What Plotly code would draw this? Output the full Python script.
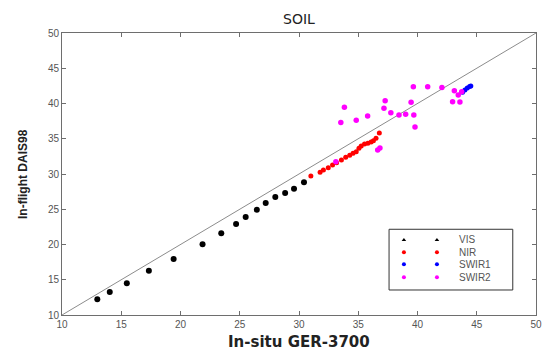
import plotly.graph_objects as go

# ---- data ----
vis_x = [12.98, 14.03, 15.47, 17.33, 19.42, 21.86, 23.44, 24.69, 25.50, 26.44, 27.19, 28.00, 28.83, 29.58, 30.42]
vis_y = [12.23, 13.26, 14.50, 16.28, 17.94, 20.03, 21.59, 22.91, 23.90, 24.94, 25.89, 26.74, 27.30, 27.91, 28.82]

nir_x = [31.00, 31.78, 32.06, 32.47, 32.83, 33.17, 33.58, 33.94, 34.28, 34.56, 34.83, 35.06, 35.25, 35.53, 35.81, 36.08, 36.28, 36.50, 36.78]
nir_y = [29.70, 30.24, 30.57, 30.89, 31.28, 31.60, 31.99, 32.36, 32.65, 32.93, 33.16, 33.64, 33.97, 34.26, 34.35, 34.54, 34.72, 35.06, 35.80]

swir1_x = [43.80, 44.00, 44.20, 44.40, 44.50]
swir1_y = [41.60, 41.90, 42.20, 42.40, 42.50]

swir2_x = [33.83, 33.53, 34.83, 35.79, 37.17, 37.27, 37.75, 38.44, 39.00, 39.65, 39.46, 39.69, 39.79,
           40.86, 42.06, 43.11, 42.96, 43.58, 43.73, 43.44, 36.64, 36.83, 33.11]
swir2_y = [39.46, 37.31, 37.62, 38.23, 39.32, 40.40, 38.70, 38.37, 38.47, 42.38, 40.18, 38.37, 36.67,
           42.38, 42.27, 41.82, 40.26, 40.21, 41.67, 41.21, 33.40, 33.69, 31.74]

diag = [10, 50]

series_names = ["VIS", "NIR", "SWIR1", "SWIR2"]
series_colors = ["#000000", "#ff0000", "#0000ff", "#ff00ff"]
legend_symbols = ["triangle-up", "circle", "circle", "circle"]

W, H = 553, 350
L, R, T, B = 62, 11, 33, 35

fig = go.Figure()

fig.add_trace(go.Scatter(x=diag, y=diag, mode="lines",
                         line=dict(color="#8c8c8c", width=1), showlegend=False, hoverinfo="skip"))

for xs, ys, col, sz in [(vis_x, vis_y, series_colors[0], 6),
                        (nir_x, nir_y, series_colors[1], 5),
                        (swir1_x, swir1_y, series_colors[2], 5),
                        (swir2_x, swir2_y, series_colors[3], 5.5)]:
    fig.add_trace(go.Scatter(x=xs, y=ys, mode="markers",
                             marker=dict(color=col, size=sz, line=dict(width=0)),
                             showlegend=False))

# custom MATLAB-style legend (two markers per entry) on its own small axes
leg_rows = [0.824, 0.621, 0.423, 0.209]
for name, col, sym, yr in zip(series_names, series_colors, legend_symbols, leg_rows):
    fig.add_trace(go.Scatter(x=[0.12, 0.387], y=[yr, yr], mode="markers",
                             marker=dict(color=col, size=4, symbol=sym, line=dict(width=0)),
                             xaxis="x2", yaxis="y2", showlegend=False, hoverinfo="skip"))
    fig.add_annotation(x=0.547, y=yr, xref="x2", yref="y2", text=name, showarrow=False,
                       xanchor="left", yanchor="middle",
                       font=dict(family="Arial, Liberation Sans", size=10, color="#555555"))

ax_common = dict(range=[10, 50], dtick=5, tick0=10, showline=True, mirror="ticks",
                 linecolor="#6e6e6e", linewidth=1, ticks="inside", ticklen=4,
                 tickcolor="#6e6e6e", showgrid=False, zeroline=False,
                 tickfont=dict(family="Arial, Liberation Sans", size=10, color="#555555"))

fig.update_layout(
    width=W, height=H,
    margin=dict(l=L, r=R, t=T, b=B, pad=0),
    paper_bgcolor="white", plot_bgcolor="white",
    xaxis=dict(**ax_common, domain=[0, 1]),
    yaxis=dict(**ax_common, domain=[0, 1]),
    xaxis2=dict(domain=[0.690, 0.951], range=[0, 1], visible=False, anchor="y2"),
    yaxis2=dict(domain=[0.0887, 0.304], range=[0, 1], visible=False, anchor="x2"),
    showlegend=False,
)

fig.add_shape(type="rect", xref="paper", yref="paper", x0=0.690, x1=0.951, y0=0.0887, y1=0.304,
              line=dict(color="#333333", width=1), fillcolor="rgba(0,0,0,0)")

# title and axis labels
fig.add_annotation(x=0.5, y=1, xref="paper", yref="paper", yshift=14, text="SOIL",
                   showarrow=False, xanchor="center", yanchor="middle",
                   font=dict(family="DejaVu Sans", size=14, color="#222222"))
fig.add_annotation(x=0.5, y=0, xref="paper", yref="paper", yshift=-27, text="<b>In-situ GER-3700</b>",
                   showarrow=False, xanchor="center", yanchor="middle",
                   font=dict(family="DejaVu Sans", size=15, color="#222222"))
fig.add_annotation(x=0, y=0.5, xref="paper", yref="paper", xshift=-39, text="<b>In-flight DAIS98</b>",
                   showarrow=False, xanchor="center", yanchor="middle", textangle=-90,
                   font=dict(family="Arial, Liberation Sans", size=12, color="#222222"))

fig.write_html("out.html")
